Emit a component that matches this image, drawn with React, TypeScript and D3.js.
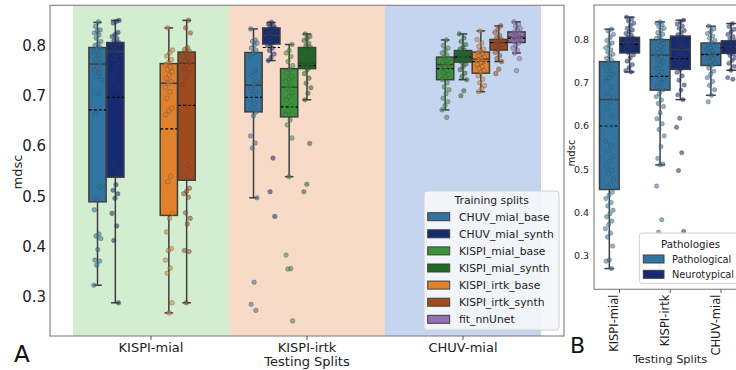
import React from 'react';
import * as d3 from 'd3';

// ---- data ----
const splits = ['KISPI-mial', 'KISPI-irtk', 'CHUV-mial'];
const trainSplits = ['CHUV_mial_base', 'CHUV_mial_synth', 'KISPI_mial_base', 'KISPI_mial_synth', 'KISPI_irtk_base', 'KISPI_irtk_synth', 'fit_nnUnet'];
const trainColors = ['#3274a1', '#162a72', '#3a923a', '#1f6a27', '#e1812c', '#a14a1f', '#9372b2'];
const yTicks = [0.3, 0.4, 0.5, 0.6, 0.7, 0.8];

// panel A boxes: test split index, training split index, stats
const boxSplitA = [0, 0, 0, 0, 1, 1, 1, 1, 2, 2, 2, 2, 2];
const boxTrainA = [0, 1, 4, 5, 0, 1, 2, 3, 2, 3, 4, 5, 6];
const whiskLoA = [0.323, 0.288, 0.268, 0.288, 0.497, 0.770, 0.539, 0.692, 0.672, 0.732, 0.708, 0.768, 0.785];
const q1A = [0.489, 0.538, 0.462, 0.532, 0.668, 0.803, 0.658, 0.754, 0.732, 0.767, 0.745, 0.791, 0.806];
const medianA = [0.763, 0.788, 0.725, 0.765, 0.721, 0.820, 0.717, 0.765, 0.762, 0.779, 0.773, 0.805, 0.817];
const meanA = [0.672, 0.697, 0.634, 0.681, 0.697, 0.796, 0.678, 0.760, 0.754, 0.777, 0.768, 0.806, 0.814];
const q3A = [0.796, 0.806, 0.764, 0.787, 0.786, 0.835, 0.754, 0.796, 0.777, 0.790, 0.787, 0.812, 0.827];
const whiskHiA = [0.846, 0.850, 0.835, 0.850, 0.833, 0.846, 0.802, 0.823, 0.811, 0.823, 0.829, 0.839, 0.847];
const pointsA = [
  [0.847, 0.838, 0.831, 0.828, 0.825, 0.821, 0.815, 0.808, 0.803, 0.800, 0.796, 0.793, 0.788, 0.781, 0.772, 0.765, 0.755, 0.750, 0.745, 0.738, 0.732, 0.705, 0.665, 0.519, 0.494, 0.473, 0.425, 0.421, 0.416, 0.394, 0.373, 0.371, 0.363, 0.323],
  [0.850, 0.848, 0.845, 0.826, 0.822, 0.818, 0.814, 0.810, 0.806, 0.804, 0.800, 0.796, 0.792, 0.788, 0.782, 0.775, 0.760, 0.746, 0.731, 0.717, 0.566, 0.546, 0.523, 0.512, 0.505, 0.496, 0.466, 0.441, 0.412, 0.288],
  [0.835, 0.791, 0.785, 0.779, 0.772, 0.766, 0.762, 0.757, 0.752, 0.748, 0.741, 0.735, 0.728, 0.725, 0.717, 0.708, 0.695, 0.675, 0.670, 0.662, 0.540, 0.529, 0.466, 0.456, 0.429, 0.396, 0.392, 0.373, 0.357, 0.347, 0.288, 0.268],
  [0.850, 0.835, 0.825, 0.796, 0.792, 0.789, 0.785, 0.779, 0.775, 0.770, 0.766, 0.760, 0.754, 0.746, 0.735, 0.722, 0.562, 0.537, 0.516, 0.510, 0.505, 0.498, 0.467, 0.456, 0.445, 0.392, 0.390, 0.288],
  [0.833, 0.811, 0.808, 0.805, 0.800, 0.795, 0.790, 0.785, 0.779, 0.751, 0.740, 0.728, 0.722, 0.715, 0.708, 0.703, 0.692, 0.684, 0.676, 0.668, 0.660, 0.620, 0.606, 0.596, 0.497, 0.329, 0.285, 0.273],
  [0.846, 0.843, 0.840, 0.838, 0.835, 0.833, 0.830, 0.828, 0.825, 0.822, 0.820, 0.818, 0.815, 0.812, 0.810, 0.806, 0.803, 0.800, 0.795, 0.790, 0.783, 0.776, 0.770, 0.576, 0.509, 0.460],
  [0.802, 0.790, 0.785, 0.778, 0.768, 0.760, 0.752, 0.745, 0.738, 0.733, 0.728, 0.720, 0.715, 0.706, 0.698, 0.692, 0.680, 0.669, 0.662, 0.652, 0.642, 0.616, 0.539, 0.383, 0.356, 0.355, 0.252],
  [0.823, 0.818, 0.814, 0.810, 0.804, 0.800, 0.796, 0.790, 0.783, 0.778, 0.772, 0.768, 0.765, 0.760, 0.757, 0.752, 0.744, 0.735, 0.725, 0.716, 0.705, 0.692, 0.605, 0.524, 0.509],
  [0.811, 0.800, 0.795, 0.790, 0.785, 0.781, 0.777, 0.774, 0.770, 0.766, 0.762, 0.758, 0.754, 0.750, 0.746, 0.742, 0.738, 0.732, 0.726, 0.718, 0.712, 0.704, 0.695, 0.688, 0.680, 0.672, 0.657],
  [0.823, 0.815, 0.808, 0.802, 0.797, 0.793, 0.790, 0.787, 0.784, 0.781, 0.779, 0.777, 0.775, 0.772, 0.769, 0.767, 0.763, 0.758, 0.752, 0.745, 0.738, 0.732, 0.710, 0.700],
  [0.829, 0.812, 0.805, 0.798, 0.793, 0.789, 0.786, 0.783, 0.780, 0.777, 0.774, 0.771, 0.768, 0.765, 0.762, 0.758, 0.754, 0.750, 0.746, 0.740, 0.733, 0.726, 0.720, 0.714, 0.708],
  [0.839, 0.832, 0.826, 0.820, 0.816, 0.812, 0.810, 0.808, 0.806, 0.804, 0.802, 0.800, 0.797, 0.794, 0.791, 0.786, 0.780, 0.774, 0.768, 0.753, 0.744],
  [0.847, 0.842, 0.838, 0.834, 0.830, 0.827, 0.824, 0.821, 0.819, 0.817, 0.815, 0.813, 0.810, 0.808, 0.805, 0.800, 0.795, 0.790, 0.785, 0.774, 0.750],
];

// panel B boxes
const pathologies = ['Pathological', 'Neurotypical'];
const pathColors = ['#3274a1', '#162a72'];
const boxSplitB = [0, 0, 1, 1, 2, 2];
const boxPathB = [0, 1, 0, 1, 0, 1];
const whiskLoB = [0.270, 0.725, 0.510, 0.661, 0.671, 0.729];
const q1B = [0.453, 0.769, 0.683, 0.731, 0.740, 0.768];
const medianB = [0.661, 0.793, 0.764, 0.777, 0.766, 0.782];
const meanB = [0.600, 0.789, 0.715, 0.756, 0.765, 0.781];
const q3B = [0.749, 0.805, 0.800, 0.808, 0.792, 0.797];
const whiskHiB = [0.824, 0.852, 0.841, 0.845, 0.831, 0.837];
const pointsB = [
  [0.824, 0.820, 0.812, 0.805, 0.798, 0.792, 0.787, 0.781, 0.776, 0.771, 0.766, 0.761, 0.757, 0.752, 0.748, 0.742, 0.736, 0.728, 0.720, 0.712, 0.703, 0.690, 0.676, 0.665, 0.655, 0.640, 0.622, 0.600, 0.565, 0.555, 0.543, 0.530, 0.518, 0.505, 0.498, 0.490, 0.478, 0.466, 0.458, 0.447, 0.440, 0.432, 0.423, 0.415, 0.405, 0.397, 0.390, 0.380, 0.372, 0.362, 0.352, 0.343, 0.322, 0.290, 0.287, 0.270],
  [0.852, 0.848, 0.843, 0.838, 0.832, 0.826, 0.822, 0.818, 0.814, 0.810, 0.806, 0.803, 0.800, 0.798, 0.795, 0.793, 0.791, 0.789, 0.786, 0.783, 0.780, 0.777, 0.774, 0.770, 0.765, 0.758, 0.750, 0.742, 0.735, 0.728, 0.725],
  [0.841, 0.838, 0.834, 0.830, 0.826, 0.821, 0.816, 0.812, 0.808, 0.803, 0.799, 0.795, 0.790, 0.785, 0.780, 0.775, 0.770, 0.765, 0.760, 0.754, 0.748, 0.741, 0.733, 0.725, 0.717, 0.708, 0.700, 0.690, 0.683, 0.675, 0.668, 0.660, 0.652, 0.645, 0.630, 0.617, 0.605, 0.592, 0.577, 0.552, 0.525, 0.512, 0.510, 0.461, 0.383, 0.354, 0.330, 0.275],
  [0.845, 0.841, 0.836, 0.831, 0.826, 0.821, 0.816, 0.811, 0.806, 0.801, 0.796, 0.791, 0.786, 0.781, 0.777, 0.772, 0.767, 0.762, 0.756, 0.750, 0.744, 0.738, 0.731, 0.724, 0.716, 0.706, 0.695, 0.683, 0.672, 0.661, 0.618, 0.597, 0.538, 0.497, 0.356],
  [0.831, 0.825, 0.819, 0.814, 0.808, 0.803, 0.798, 0.793, 0.789, 0.785, 0.781, 0.777, 0.773, 0.769, 0.766, 0.762, 0.758, 0.754, 0.749, 0.744, 0.740, 0.734, 0.727, 0.720, 0.712, 0.703, 0.694, 0.684, 0.671, 0.656],
  [0.837, 0.830, 0.824, 0.818, 0.812, 0.807, 0.802, 0.798, 0.795, 0.792, 0.789, 0.786, 0.783, 0.781, 0.779, 0.776, 0.773, 0.770, 0.767, 0.763, 0.758, 0.752, 0.745, 0.738, 0.729, 0.712, 0.708],
];

const bandColors = ['#d2edd0', '#f8dac9', '#c6d5ef'];

const font = 'DejaVu Sans, sans-serif';
const edge = '#3f3f3f';

// deterministic horizontal spread for the strip points
const jitter = (i: number, k: number, half: number) =>
  ((((i + 1) * 0.618034 + k * 0.377) % 1) - 0.5) * 2 * half;

function BoxStrip(props: any) {
  const { cx, w, y, color, lo, q1, med, mean, q3, hi, pts, k, half, r } = props;
  const capW = w / 2;
  return (
    <g>
      <line x1={cx} x2={cx} y1={y(lo)} y2={y(q1)} stroke={edge} strokeWidth={1.5} />
      <line x1={cx} x2={cx} y1={y(q3)} y2={y(hi)} stroke={edge} strokeWidth={1.5} />
      <line x1={cx - capW / 2} x2={cx + capW / 2} y1={y(lo)} y2={y(lo)} stroke={edge} strokeWidth={1.5} />
      <line x1={cx - capW / 2} x2={cx + capW / 2} y1={y(hi)} y2={y(hi)} stroke={edge} strokeWidth={1.5} />
      <rect x={cx - w / 2} y={y(q3)} width={w} height={y(q1) - y(q3)} fill={color} stroke={edge} strokeWidth={1.5} />
      <line x1={cx - w / 2} x2={cx + w / 2} y1={y(med)} y2={y(med)} stroke={edge} strokeWidth={1.5} />
      <line x1={cx - w / 2} x2={cx + w / 2} y1={y(mean)} y2={y(mean)} stroke="#000" strokeWidth={1.2} strokeDasharray="3,2" />
      {pts.map((v: number, i: number) => (
        <circle key={i} cx={cx + jitter(i, k, half)} cy={y(v)} r={r} fill={color} fillOpacity={0.55}
          stroke="#444" strokeOpacity={0.55} strokeWidth={0.6} />
      ))}
    </g>
  );
}

export default function App() {
  // panel A
  const xA = d3.scaleBand().domain(splits).range([73, 541]);
  const hueA = d3.scaleBand<number>().domain(d3.range(trainSplits.length)).range([-0.4 * xA.step(), 0.4 * xA.step()]);
  const yA = d3.scaleLinear().domain([0.222, 0.88]).range([336, 5.3]);
  const cA = (s: string) => (xA(s) as number) + xA.bandwidth() / 2;

  // panel B
  const xB = d3.scaleBand().domain(splits).range([594.1, 746.4]);
  const hueB = d3.scaleBand<number>().domain([0, 1]).range([-0.4 * xB.step(), 0.4 * xB.step()]);
  const yB = d3.scaleLinear().domain([0.222, 0.88]).range([289.3, 5]);
  const cB = (s: string) => (xB(s) as number) + xB.bandwidth() / 2;

  return (
    <svg width={736} height={370} style={{ position: 'absolute', left: 0, top: 0, background: '#fff' }} fontFamily={font}>
      {/* ---------- panel A ---------- */}
      {splits.map((s, i) => (
        <rect key={s} x={xA(s)} y={5.3} width={xA.bandwidth()} height={336 - 5.3} fill={bandColors[i]} />
      ))}
      {boxSplitA.map((g, i) => {
        const h = boxTrainA[i];
        return (
          <BoxStrip key={i} cx={cA(splits[g]) + (hueA(h) as number) + hueA.bandwidth() / 2} w={hueA.bandwidth() - 0.6}
            y={yA} color={trainColors[h]} lo={whiskLoA[i]} q1={q1A[i]} med={medianA[i]} mean={meanA[i]}
            q3={q3A[i]} hi={whiskHiA[i]} pts={pointsA[i]} k={i} half={3.8} r={2.3} />
        );
      })}
      <rect x={50} y={5.3} width={514} height={330.7} fill="none" stroke="#8a8a8a" strokeWidth={1.2} />
      {yTicks.map(t => (
        <text key={t} x={46} y={yA(t)} dy="0.36em" textAnchor="end" fontSize={15} fill="#222">{d3.format('.1f')(t)}</text>
      ))}
      {splits.map(s => (
        <g key={s}>
          <line x1={cA(s)} x2={cA(s)} y1={336} y2={340} stroke="#555" />
          <text x={cA(s)} y={352} textAnchor="middle" fontSize={13} fill="#222">{s}</text>
        </g>
      ))}
      <text x={307} y={365.5} textAnchor="middle" fontSize={13} fill="#222">Testing Splits</text>
      <text transform="translate(21.5,172) rotate(-90)" textAnchor="middle" fontSize={13} fill="#222">mdsc</text>
      <text x={14} y={362} fontSize={23} fill="#111">A</text>

      {/* legend A */}
      <rect x={424} y={191} width={135} height={139} rx={3} fill="#f4f6fa" fillOpacity={0.92} stroke="#d0d0d0" />
      <text x={491.7} y={204} textAnchor="middle" fontSize={10.8} fill="#222">Training splits</text>
      {trainSplits.map((t, i) => (
        <g key={t} transform={`translate(0,${216.7 + i * 17.1})`}>
          <rect x={427.7} y={-4} width={22} height={8} fill={trainColors[i]} stroke={edge} strokeWidth={1} />
          <text x={459} y={0} dy="0.36em" fontSize={10.8} fill="#222">{t}</text>
        </g>
      ))}

      {/* ---------- panel B ---------- */}
      {boxSplitB.map((g, i) => {
        const h = boxPathB[i];
        return (
          <BoxStrip key={i} cx={cB(splits[g]) + (hueB(h) as number) + hueB.bandwidth() / 2} w={hueB.bandwidth() - 0.6}
            y={yB} color={pathColors[h]} lo={whiskLoB[i]} q1={q1B[i]} med={medianB[i]} mean={meanB[i]}
            q3={q3B[i]} hi={whiskHiB[i]} pts={pointsB[i]} k={i + 3} half={4.2} r={2.2} />
        );
      })}
      <rect x={594} y={5} width={160} height={284.3} fill="none" stroke="#8a8a8a" strokeWidth={1.2} />
      {yTicks.map(t => (
        <text key={t} x={589} y={yB(t)} dy="0.36em" textAnchor="end" fontSize={9.5} fill="#222">{d3.format('.1f')(t)}</text>
      ))}
      {splits.map(s => (
        <g key={s}>
          <line x1={cB(s)} x2={cB(s)} y1={289.3} y2={293} stroke="#555" />
          <text transform={`translate(${cB(s) - 1.5},294.5) rotate(-90)`} textAnchor="end" fontSize={11.5} fill="#222">{s}</text>
        </g>
      ))}
      <text x={670} y={363} textAnchor="middle" fontSize={11.3} fill="#222">Testing Splits</text>
      <text transform="translate(574.5,153) rotate(-90)" textAnchor="middle" fontSize={10} fill="#222">mdsc</text>
      <text x={570} y={353} fontSize={22} fill="#111">B</text>

      {/* legend B */}
      <rect x={639.3} y={233} width={120} height={50.3} rx={3} fill="#fff" fillOpacity={0.85} stroke="#d0d0d0" />
      <text x={690.5} y={248} textAnchor="middle" fontSize={10.3} fill="#222">Pathologies</text>
      {pathologies.map((p, i) => (
        <g key={p} transform={`translate(0,${259 + i * 15.3})`}>
          <rect x={643.3} y={-4} width={20.7} height={8} fill={pathColors[i]} stroke={edge} strokeWidth={1} />
          <text x={672} y={0} dy="0.36em" fontSize={9.8} fill="#222">{p}</text>
        </g>
      ))}
    </svg>
  );
}
